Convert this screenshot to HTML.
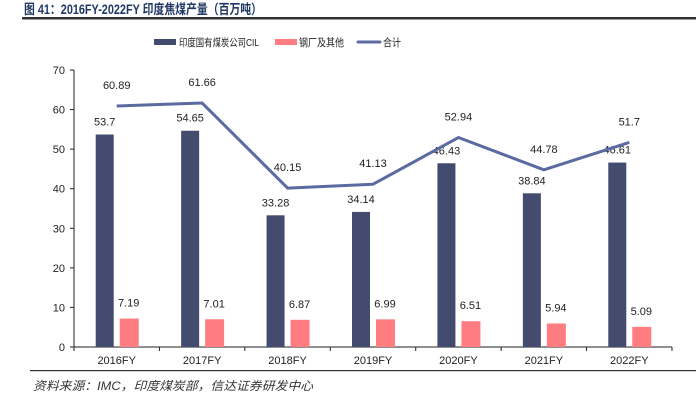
<!DOCTYPE html>
<html><head><meta charset="utf-8"><style>
body{margin:0;background:#fff;width:696px;height:409px;overflow:hidden;font-family:"Liberation Sans","Noto Sans CJK SC",sans-serif}
svg text{font-family:"Liberation Sans","Noto Sans CJK SC",sans-serif}
</style></head><body>
<svg width="696" height="409">
<text x="24" y="14" font-size="13.5" font-weight="bold" fill="#1f3864" textLength="238" lengthAdjust="spacingAndGlyphs">图 41：2016FY-2022FY 印度焦煤产量（百万吨）</text>
<rect x="22" y="17" width="674" height="2.5" fill="#333"/>
<g id="legend" font-size="10.5" fill="#222">
<rect x="154" y="39" width="22" height="6" fill="#434c6e"/>
<text x="179" y="46" textLength="80" lengthAdjust="spacingAndGlyphs">印度国有煤炭公司CIL</text>
<rect x="275" y="39" width="22" height="6" fill="#ff7c80"/>
<text x="299" y="46" textLength="45" lengthAdjust="spacingAndGlyphs">钢厂及其他</text>
<line x1="358" y1="42" x2="380" y2="42" stroke="#5b6aa0" stroke-width="3" stroke-linecap="round"/>
<text x="383" y="46" textLength="18" lengthAdjust="spacingAndGlyphs">合计</text>
</g>
<g id="plot"></g>
<rect x="30" y="370" width="666" height="1.2" fill="#333"/>
<text x="33" y="390" font-size="12" font-style="italic" fill="#333" textLength="280" lengthAdjust="spacingAndGlyphs">资料来源：IMC，印度煤炭部，信达证券研发中心</text>
</svg>
<script>
const categories=["2016FY","2017FY","2018FY","2019FY","2020FY","2021FY","2022FY"];
const cilValues=[53.7,54.65,33.28,34.14,46.43,38.84,46.61];
const steelValues=[7.19,7.01,6.87,6.99,6.51,5.94,5.09];
const totalValues=[60.89,61.66,40.15,41.13,52.94,44.78,51.7];
const yTicks=[0,10,20,30,40,50,60,70];
const NS="http://www.w3.org/2000/svg";
const g=document.getElementById('plot');
const X0=74,X1=672,Y0=347,Y1=70,YMAX=70;
const bw=(X1-X0)/categories.length;
const y=v=>Y0-(v/YMAX)*(Y0-Y1);
const cx=i=>X0+bw*(i+0.5);
function mk(t,a){const e=document.createElementNS(NS,t);for(const k in a)e.setAttribute(k,a[k]);g.appendChild(e);return e;}
let e=mk('line',{x1:X0,y1:Y1,x2:X0,y2:Y0,stroke:'#222','stroke-width':1});


e=mk('line',{x1:X0,y1:Y0,x2:X1,y2:Y0,stroke:'#222','stroke-width':1});


yTicks.forEach(t=>{
 let l=mk('line',{x1:X0-4,x2:X0,y1:y(t),y2:y(t),stroke:'#222'});
 
 
 let tx=mk('text',{x:X0-9,y:y(t)+4,'font-size':11,'text-anchor':'end',fill:'#222'});tx.textContent=t;
 
 
});
for(let i=0;i<=categories.length;i++){
 let l=mk('line',{x1:X0+bw*i,x2:X0+bw*i,y1:Y0,y2:Y0+4,stroke:'#222'});
 
 
}
categories.forEach((c,i)=>{
 let x=cx(i);
 let b=mk('rect',{x:x-21,y:y(cilValues[i]),width:18,height:Y0-y(cilValues[i]),fill:'#434c6e'});
 
 
 let p=mk('rect',{x:x+3,y:y(steelValues[i]),width:19,height:Y0-y(steelValues[i]),fill:'#ff7c80'});
 
 
 let t1=mk('text',{x:x-12,y:y(cilValues[i])-9,'font-size':11,'text-anchor':'middle',fill:'#222'});t1.textContent=cilValues[i];
 
 
 let t2=mk('text',{x:x+12,y:y(steelValues[i])-12,'font-size':11,'text-anchor':'middle',fill:'#222'});t2.textContent=steelValues[i];
 
 
 let t3=mk('text',{x:x,y:y(totalValues[i])-17,'font-size':11,'text-anchor':'middle',fill:'#222'});t3.textContent=totalValues[i];
 
 
 let xl=mk('text',{x:x,y:Y0+17,'font-size':11,'text-anchor':'middle',fill:'#222'});xl.textContent=c;
 
 
});
let pl=mk('polyline',{points:totalValues.map((v,i)=>cx(i)+','+y(v)).join(' '),fill:'none',stroke:'#5b6aa0','stroke-width':3,'stroke-linejoin':'round'});


</script>
</body></html>
